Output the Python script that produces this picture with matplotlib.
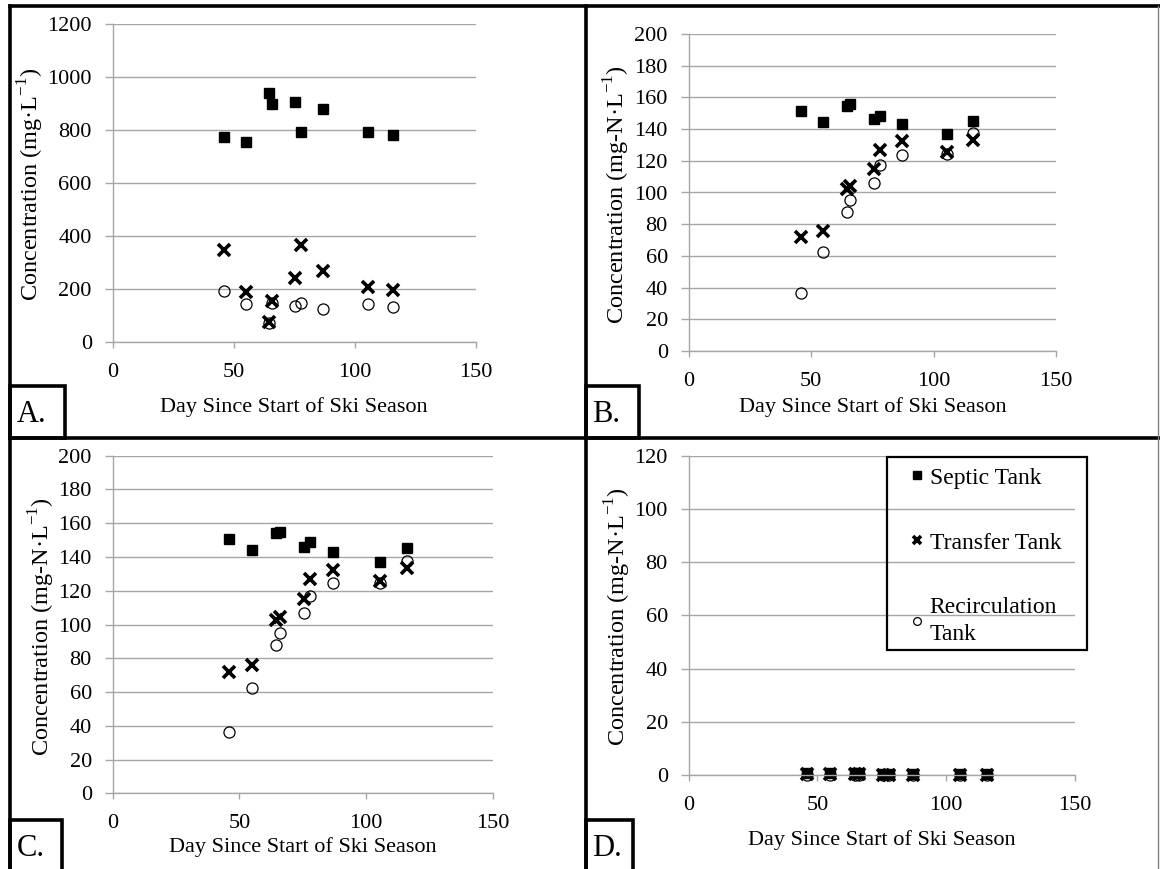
import matplotlib
matplotlib.use("Agg")
import matplotlib.pyplot as plt
from matplotlib.lines import Line2D
from matplotlib.patches import Rectangle

plt.rcParams['font.family'] = ['Liberation Serif', 'DejaVu Serif']
plt.rcParams['mathtext.fontset'] = 'custom'
plt.rcParams['mathtext.rm'] = 'Liberation Serif'

# days since start of ski season
days = [46, 55, 64.5, 66, 75.5, 78, 87, 105.5, 116]

# panel A (mg/L)
a_septic = [773, 754, 942, 899, 905, 794, 881, 794, 783]
a_transfer = [346, 188, 74, 153, 242, 366, 269, 206, 196]
a_recirc = [193, 143, 70, 148, 135, 145, 125, 143, 130]

# panel B (mg-N/L)
b_septic = [151.4, 144.5, 154.6, 156, 146.4, 148.3, 143.2, 137.1, 145.3]
b_transfer = [71.7, 75.7, 102.4, 104.1, 115, 126.8, 132.5, 125.8, 133.1]
b_recirc = [36.6, 62.2, 87.5, 95.1, 106.2, 117.1, 123.7, 124.3, 137.7]

# panel C (mg-N/L)
c_septic = [150.8, 144.2, 154.2, 155, 145.8, 148.6, 142.9, 137.1, 145.6]
c_transfer = [71.8, 76.2, 102.4, 104.3, 114.9, 127.1, 132.1, 125.8, 133.3]
c_recirc = [36.2, 62.4, 88.1, 95.2, 106.6, 117.0, 124.4, 124.6, 137.9]

# panel D (mg-N/L)
d_septic = [0.8, 0.9, 0.8, 0.7, 0.3, 0.3, 0.3, 0.3, 0.3]
d_transfer = [0.2, 0.2, 0.2, 0.2, 0.1, 0.1, 0.1, 0.1, 0.1]
d_recirc = [0.1, 0.1, 0.1, 0.1, 0.1, 0.1, 0.1, 0.1, 0.1]

W, H = 1160, 869
fig = plt.figure(figsize=(W / 100, H / 100), dpi=100)


def fx(px):
    return px / W


def fy(py):
    return 1 - py / H


def panel(rect_px, septic, transfer, recirc, ymax, ystep, ylab, ylab_x, xlab_y):
    x0, x1, ybot, ytop = rect_px
    ax = fig.add_axes([fx(x0), fy(ybot), (x1 - x0) / W, (ybot - ytop) / H])
    ax.plot(days, recirc, 'o', ms=8, mfc='none', mec='black', mew=0.9,
            label='Recirculation\nTank', clip_on=False)
    ax.plot(days, transfer, 'x', ms=8, mec='black', mew=2.6,
            label='Transfer Tank', clip_on=False)
    ax.plot(days, septic, 's', ms=7.3, color='black', label='Septic Tank',
            clip_on=False)
    ax.set_xlim(0, 150)
    ax.set_ylim(0, ymax)
    ax.set_xticks([0, 50, 100, 150])
    ax.set_yticks(range(0, ymax + 1, ystep))
    ax.grid(axis='y', color='#a6a6a6', lw=1.0)
    ax.set_axisbelow(True)
    for s in ['top', 'right']:
        ax.spines[s].set_visible(False)
    for s in ['left', 'bottom']:
        ax.spines[s].set_color('#a6a6a6')
        ax.spines[s].set_linewidth(1.0)
    ax.tick_params(axis='y', length=6, width=1.0, color='#a6a6a6', pad=9,
                   labelsize=16)
    ax.tick_params(axis='x', length=4, width=1.0, color='#a6a6a6', pad=11,
                   labelsize=16)
    ax.set_xlabel('Day Since Start of Ski Season', fontsize=16)
    ax.xaxis.label.set_verticalalignment('center')
    ax.xaxis.set_label_coords(0.5, xlab_y)
    ax.set_ylabel(ylab, fontsize=17.5)
    ax.yaxis.label.set_verticalalignment('center')
    ax.yaxis.set_label_coords(ylab_x, 0.495)
    return ax


lab_a = r'Concentration (mg·L$^{\mathregular{-1}}$)'
lab_n = r'Concentration (mg-N·L$^{\mathregular{-1}}$)'

panel((112.7, 475.7, 341.7, 24.3), a_septic, a_transfer, a_recirc,
      1200, 200, lab_a, -0.226, -0.206)
panel((688.7, 1056, 351, 34), b_septic, b_transfer, b_recirc,
      200, 20, lab_n, -0.195, -0.178)
panel((112.7, 492.7, 793.3, 455.7), c_septic, c_transfer, c_recirc,
      200, 20, lab_n, -0.186, -0.158)
axd = panel((688.7, 1074.7, 775, 455.7), d_septic, d_transfer, d_recirc,
            120, 20, lab_n, -0.184, -0.204)

h, l = axd.get_legend_handles_labels()
leg = axd.legend(h[::-1], l[::-1], loc='upper left',
                 bbox_to_anchor=(fx(912), fy(467)), bbox_transform=fig.transFigure,
                 fontsize=17, markerscale=0.7, handlelength=0.4,
                 handletextpad=0.35, labelspacing=1.85, borderpad=0,
                 borderaxespad=0, frameon=False)
leg.get_texts()[2].set_linespacing(1.35)
# legend frame
fig.add_artist(Rectangle((fx(887), fy(650)), (1087 - 887) / W, (650 - 457) / H,
                         transform=fig.transFigure, fc='none', ec='black',
                         lw=1.6, clip_on=False))

# panel frames
bw = 2.6


def fline(xs, ys, lw=bw, color='black'):
    fig.add_artist(Line2D([fx(x) for x in xs], [fy(y) for y in ys],
                          lw=lw, color=color, solid_capstyle='projecting'))


fline([10, 10], [6, H])
fline([10, W], [6, 6])
fline([10, W], [438, 438])
fline([585.5, 585.5], [6, H])
fline([1158, 1158], [6, H], lw=1.0, color='#808080')

# panel letters
for x0, x1, y0, y1, txt in [(10, 65, 386, 438, 'A.'), (585.5, 639, 386, 438, 'B.'),
                            (10, 62, 820, 872, 'C.'), (585.5, 633, 820, 872, 'D.')]:
    fig.add_artist(Rectangle((fx(x0), fy(y1)), (x1 - x0) / W, (y1 - y0) / H,
                             transform=fig.transFigure, fc='white', ec='black',
                             lw=bw, clip_on=False))
    fig.text(fx(x0 + 7), fy((y0 + y1) / 2 + 2), txt, fontsize=22,
             ha='left', va='center')

fig.savefig('out.png', dpi=100)
